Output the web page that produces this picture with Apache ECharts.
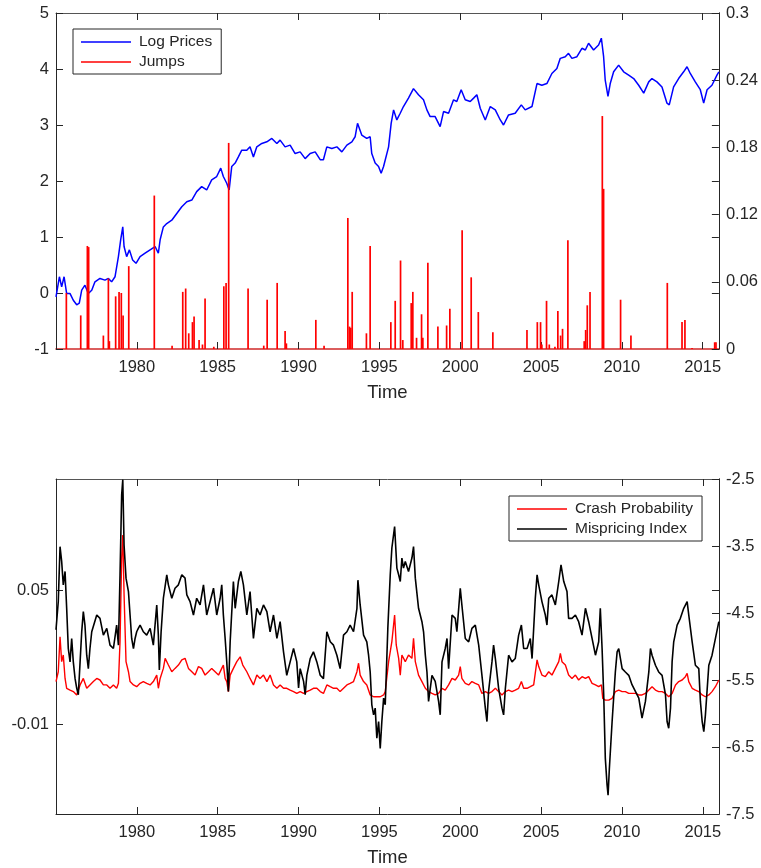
<!DOCTYPE html>
<html><head><meta charset="utf-8">
<script src="https://cdn.jsdelivr.net/npm/echarts@6/dist/echarts.min.js"></script>
<style>html,body{margin:0;padding:0;background:#fff}#c{width:761px;height:868px}</style>
</head><body><div id="c"></div>
<script>
// ---- data: [year, value] ----
const logPrices = [[1975.00,-0.07],[1975.21,0.29],[1975.35,0.11],[1975.50,0.29],[1975.66,-0.01],[1975.87,-0.01],[1976.07,-0.13],[1976.28,-0.21],[1976.44,-0.18],[1976.59,0.05],[1976.79,0.14],[1977.00,-0.01],[1977.21,0.05],[1977.41,0.20],[1977.72,0.26],[1978.03,0.23],[1978.24,0.26],[1978.44,0.20],[1978.65,0.29],[1978.75,0.32],[1978.86,0.65],[1979.00,0.95],[1979.13,1.18],[1979.21,0.83],[1979.37,0.65],[1979.54,0.77],[1979.74,0.59],[1979.95,0.53],[1980.20,0.65],[1980.51,0.71],[1980.82,0.77],[1981.13,0.83],[1981.33,0.71],[1981.44,0.95],[1981.64,1.18],[1981.85,1.24],[1982.16,1.30],[1982.47,1.42],[1982.78,1.54],[1983.09,1.63],[1983.40,1.66],[1983.70,1.81],[1984.01,1.90],[1984.32,1.84],[1984.63,2.02],[1984.94,2.08],[1985.19,2.23],[1985.35,2.08],[1985.56,1.96],[1985.71,1.84],[1985.87,2.26],[1986.08,2.32],[1986.28,2.43],[1986.49,2.55],[1986.80,2.55],[1987.00,2.61],[1987.21,2.43],[1987.42,2.61],[1987.73,2.67],[1988.04,2.70],[1988.35,2.76],[1988.66,2.67],[1988.86,2.73],[1989.17,2.61],[1989.48,2.64],[1989.79,2.49],[1990.10,2.52],[1990.41,2.40],[1990.72,2.49],[1991.03,2.52],[1991.34,2.38],[1991.54,2.38],[1991.75,2.61],[1992.06,2.58],[1992.37,2.61],[1992.68,2.52],[1992.99,2.64],[1993.30,2.70],[1993.50,2.79],[1993.65,3.03],[1993.91,2.82],[1994.22,2.76],[1994.43,2.79],[1994.53,2.49],[1994.74,2.32],[1994.95,2.26],[1995.11,2.14],[1995.26,2.26],[1995.57,2.61],[1995.73,3.03],[1995.88,3.27],[1996.08,3.09],[1996.29,3.21],[1996.49,3.33],[1996.80,3.48],[1997.11,3.65],[1997.42,3.54],[1997.73,3.45],[1997.94,3.27],[1998.14,3.15],[1998.45,3.15],[1998.76,2.97],[1998.97,3.24],[1999.28,3.21],[1999.59,3.45],[1999.79,3.42],[2000.06,3.63],[2000.31,3.45],[2000.62,3.42],[2000.83,3.48],[2001.03,3.54],[2001.24,3.30],[2001.55,3.09],[2001.86,3.33],[2002.17,3.27],[2002.48,3.09],[2002.68,3.00],[2002.99,3.18],[2003.40,3.21],[2003.78,3.36],[2004.02,3.27],[2004.44,3.33],[2004.75,3.74],[2005.05,3.71],[2005.36,3.74],[2005.67,3.92],[2005.98,4.01],[2006.19,4.19],[2006.50,4.22],[2006.70,4.28],[2006.91,4.19],[2007.22,4.22],[2007.53,4.37],[2007.74,4.34],[2007.94,4.46],[2008.25,4.34],[2008.56,4.43],[2008.73,4.55],[2008.87,4.22],[2008.97,3.80],[2009.14,3.51],[2009.28,3.74],[2009.49,3.95],[2009.80,4.07],[2010.11,3.95],[2010.42,3.89],[2010.73,3.83],[2011.04,3.71],[2011.35,3.57],[2011.66,3.77],[2011.86,3.83],[2012.17,3.77],[2012.48,3.68],[2012.79,3.39],[2012.93,3.36],[2013.20,3.68],[2013.51,3.83],[2013.82,3.95],[2014.03,4.04],[2014.23,3.92],[2014.54,3.77],[2014.85,3.63],[2015.06,3.39],[2015.27,3.63],[2015.57,3.71],[2015.88,3.89],[2016.00,3.95]];

const jumps = [[1975.64,0.050],[1976.53,0.030],[1976.94,0.092],[1977.02,0.091],[1977.93,0.012],[1978.24,0.063],[1978.30,0.007],[1978.69,0.047],[1978.90,0.051],[1979.04,0.050],[1979.15,0.030],[1979.50,0.074],[1981.08,0.137],[1982.18,0.003],[1982.84,0.051],[1983.02,0.054],[1983.21,0.014],[1983.44,0.024],[1983.54,0.029],[1983.85,0.008],[1984.06,0.004],[1984.22,0.045],[1984.76,0.002],[1985.38,0.056],[1985.52,0.059],[1985.68,0.184],[1986.88,0.054],[1987.85,0.003],[1988.06,0.044],[1988.68,0.059],[1989.17,0.016],[1989.25,0.005],[1991.07,0.026],[1991.58,0.003],[1993.05,0.117],[1993.15,0.020],[1993.23,0.019],[1993.32,0.051],[1994.20,0.014],[1994.43,0.092],[1995.71,0.024],[1995.98,0.043],[1996.31,0.079],[1996.45,0.008],[1996.97,0.041],[1997.07,0.051],[1997.30,0.010],[1997.61,0.031],[1997.69,0.010],[1998.00,0.077],[1998.62,0.020],[1999.16,0.021],[1999.36,0.036],[2000.12,0.106],[2000.68,0.064],[2001.12,0.033],[2002.02,0.015],[2004.13,0.017],[2004.77,0.024],[2004.97,0.024],[2005.05,0.004],[2005.34,0.043],[2005.51,0.004],[2005.86,0.002],[2006.04,0.034],[2006.21,0.012],[2006.33,0.018],[2006.66,0.097],[2007.67,0.007],[2007.76,0.017],[2007.86,0.039],[2008.03,0.051],[2008.79,0.208],[2008.87,0.143],[2009.92,0.044],[2010.56,0.012],[2012.81,0.059],[2013.72,0.024],[2013.90,0.026],[2014.34,0.001],[2015.74,0.006],[2015.82,0.006]];

const crashProbability = [[1975.00,0.0093],[1975.14,0.0137],[1975.25,0.0294],[1975.35,0.0182],[1975.45,0.0212],[1975.56,0.0107],[1975.66,0.0063],[1975.87,0.0055],[1976.07,0.0048],[1976.28,0.0033],[1976.49,0.0078],[1976.69,0.0107],[1976.90,0.0063],[1977.10,0.0078],[1977.31,0.0093],[1977.52,0.0107],[1977.72,0.0100],[1977.93,0.0078],[1978.14,0.0078],[1978.34,0.0063],[1978.55,0.0078],[1978.75,0.0063],[1978.86,0.0085],[1978.96,0.0272],[1979.06,0.0645],[1979.13,0.0749],[1979.21,0.0481],[1979.33,0.0182],[1979.48,0.0137],[1979.58,0.0093],[1979.79,0.0078],[1979.99,0.0070],[1980.20,0.0085],[1980.40,0.0093],[1980.61,0.0085],[1980.82,0.0078],[1981.02,0.0093],[1981.23,0.0122],[1981.33,0.0063],[1981.44,0.0107],[1981.64,0.0152],[1981.75,0.0197],[1981.95,0.0167],[1982.16,0.0137],[1982.36,0.0152],[1982.57,0.0167],[1982.78,0.0190],[1982.98,0.0197],[1983.19,0.0152],[1983.40,0.0137],[1983.60,0.0122],[1983.81,0.0160],[1984.01,0.0152],[1984.22,0.0122],[1984.43,0.0137],[1984.63,0.0152],[1984.84,0.0137],[1985.05,0.0122],[1985.25,0.0152],[1985.35,0.0167],[1985.46,0.0107],[1985.56,0.0093],[1985.66,0.0048],[1985.77,0.0122],[1985.97,0.0152],[1986.18,0.0182],[1986.39,0.0204],[1986.55,0.0167],[1986.80,0.0137],[1987.00,0.0107],[1987.21,0.0078],[1987.42,0.0122],[1987.62,0.0107],[1987.83,0.0122],[1988.04,0.0093],[1988.24,0.0122],[1988.45,0.0078],[1988.66,0.0063],[1988.86,0.0078],[1989.07,0.0063],[1989.27,0.0063],[1989.48,0.0055],[1989.69,0.0048],[1989.89,0.0040],[1990.10,0.0048],[1990.31,0.0040],[1990.51,0.0048],[1990.72,0.0055],[1990.92,0.0063],[1991.13,0.0063],[1991.34,0.0048],[1991.54,0.0040],[1991.75,0.0078],[1991.96,0.0070],[1992.16,0.0063],[1992.37,0.0063],[1992.57,0.0048],[1992.78,0.0063],[1992.99,0.0078],[1993.19,0.0085],[1993.40,0.0093],[1993.61,0.0137],[1993.71,0.0175],[1993.81,0.0122],[1994.02,0.0093],[1994.22,0.0078],[1994.43,0.0033],[1994.64,0.0025],[1994.84,0.0025],[1995.05,0.0025],[1995.26,0.0033],[1995.36,0.0048],[1995.57,0.0182],[1995.77,0.0272],[1995.94,0.0391],[1996.04,0.0257],[1996.19,0.0197],[1996.29,0.0122],[1996.39,0.0212],[1996.60,0.0182],[1996.80,0.0212],[1997.01,0.0197],[1997.11,0.0287],[1997.22,0.0182],[1997.42,0.0122],[1997.63,0.0093],[1997.84,0.0063],[1998.04,0.0048],[1998.25,0.0040],[1998.45,0.0033],[1998.66,0.0040],[1998.87,0.0063],[1999.07,0.0055],[1999.28,0.0078],[1999.49,0.0107],[1999.69,0.0100],[1999.90,0.0122],[2000.00,0.0160],[2000.10,0.0107],[2000.31,0.0085],[2000.52,0.0078],[2000.72,0.0093],[2000.93,0.0085],[2001.14,0.0078],[2001.34,0.0040],[2001.55,0.0048],[2001.75,0.0040],[2001.96,0.0048],[2002.17,0.0063],[2002.37,0.0048],[2002.58,0.0033],[2002.79,0.0048],[2002.99,0.0055],[2003.20,0.0048],[2003.40,0.0055],[2003.61,0.0063],[2003.78,0.0093],[2003.92,0.0063],[2004.13,0.0063],[2004.33,0.0070],[2004.54,0.0078],[2004.75,0.0190],[2004.85,0.0160],[2005.05,0.0122],[2005.26,0.0115],[2005.47,0.0137],[2005.67,0.0122],[2005.88,0.0152],[2006.09,0.0182],[2006.19,0.0219],[2006.29,0.0182],[2006.50,0.0167],[2006.70,0.0122],[2006.91,0.0107],[2007.12,0.0122],[2007.32,0.0100],[2007.53,0.0115],[2007.74,0.0107],[2007.94,0.0115],[2008.15,0.0085],[2008.36,0.0078],[2008.56,0.0070],[2008.73,0.0078],[2008.81,0.0018],[2008.97,0.0010],[2009.18,0.0010],[2009.39,0.0018],[2009.59,0.0048],[2009.80,0.0055],[2010.01,0.0048],[2010.21,0.0048],[2010.42,0.0040],[2010.62,0.0040],[2010.83,0.0040],[2011.04,0.0033],[2011.24,0.0033],[2011.45,0.0040],[2011.66,0.0055],[2011.86,0.0070],[2012.07,0.0055],[2012.27,0.0048],[2012.48,0.0048],[2012.69,0.0040],[2012.89,0.0025],[2013.10,0.0040],[2013.31,0.0078],[2013.51,0.0093],[2013.72,0.0100],[2013.92,0.0115],[2014.03,0.0130],[2014.13,0.0093],[2014.34,0.0063],[2014.54,0.0055],[2014.75,0.0048],[2014.96,0.0033],[2015.16,0.0025],[2015.37,0.0033],[2015.57,0.0048],[2015.78,0.0070],[2015.99,0.0100]];

const mispricingIndex = [[1975.00,-4.75],[1975.14,-4.33],[1975.25,-3.51],[1975.35,-3.73],[1975.45,-4.08],[1975.56,-3.88],[1975.66,-4.43],[1975.76,-5.03],[1975.87,-5.23],[1975.97,-4.88],[1976.07,-5.23],[1976.18,-5.48],[1976.28,-5.62],[1976.38,-5.72],[1976.49,-5.23],[1976.59,-4.78],[1976.69,-4.48],[1976.79,-4.68],[1976.90,-5.13],[1977.00,-5.33],[1977.10,-5.03],[1977.21,-4.78],[1977.31,-4.78],[1977.52,-4.53],[1977.72,-4.58],[1977.93,-4.83],[1978.14,-4.73],[1978.34,-4.98],[1978.55,-5.03],[1978.75,-4.68],[1978.86,-4.98],[1978.96,-3.93],[1979.06,-2.74],[1979.13,-2.51],[1979.21,-3.49],[1979.33,-3.98],[1979.48,-4.18],[1979.58,-4.53],[1979.68,-4.88],[1979.79,-5.03],[1979.89,-4.88],[1979.99,-4.78],[1980.09,-4.73],[1980.20,-4.68],[1980.40,-4.78],[1980.61,-4.83],[1980.82,-4.73],[1981.02,-4.98],[1981.23,-4.38],[1981.33,-4.83],[1981.39,-5.35],[1981.50,-4.78],[1981.64,-4.28],[1981.85,-3.93],[1981.95,-4.08],[1982.16,-4.28],[1982.36,-4.13],[1982.57,-4.08],[1982.78,-3.93],[1982.98,-3.98],[1983.09,-4.23],[1983.29,-4.33],[1983.50,-4.53],[1983.70,-4.28],[1983.91,-4.38],[1984.12,-4.08],[1984.32,-4.53],[1984.53,-4.33],[1984.74,-4.13],[1984.94,-4.53],[1985.15,-4.28],[1985.25,-4.08],[1985.35,-4.53],[1985.46,-4.88],[1985.56,-5.23],[1985.66,-5.67],[1985.77,-4.93],[1985.97,-4.03],[1986.08,-4.43],[1986.28,-4.03],[1986.43,-3.88],[1986.59,-4.08],[1986.80,-4.53],[1987.00,-4.18],[1987.21,-4.88],[1987.42,-4.43],[1987.62,-4.53],[1987.83,-4.38],[1988.04,-4.48],[1988.24,-4.78],[1988.45,-4.53],[1988.66,-4.88],[1988.86,-4.63],[1989.07,-5.08],[1989.27,-5.43],[1989.48,-5.23],[1989.69,-5.03],[1989.89,-5.23],[1990.00,-5.62],[1990.10,-5.33],[1990.31,-5.52],[1990.41,-5.72],[1990.51,-5.43],[1990.72,-5.18],[1990.92,-5.08],[1991.13,-5.23],[1991.34,-5.43],[1991.54,-5.48],[1991.75,-4.78],[1991.96,-4.93],[1992.16,-4.98],[1992.37,-5.13],[1992.57,-5.33],[1992.78,-4.83],[1992.99,-4.78],[1993.19,-4.68],[1993.40,-4.78],[1993.61,-4.43],[1993.67,-4.01],[1993.81,-4.38],[1994.02,-4.83],[1994.22,-4.93],[1994.33,-5.13],[1994.43,-5.38],[1994.53,-5.87],[1994.64,-6.02],[1994.74,-5.92],[1994.84,-6.37],[1994.95,-6.12],[1995.05,-6.52],[1995.15,-6.12],[1995.26,-5.77],[1995.36,-5.87],[1995.52,-4.73],[1995.67,-3.93],[1995.77,-3.53],[1995.94,-3.21],[1996.08,-3.83],[1996.19,-3.93],[1996.29,-4.03],[1996.39,-3.68],[1996.49,-3.83],[1996.60,-3.73],[1996.80,-3.88],[1997.01,-3.68],[1997.11,-3.51],[1997.22,-3.98],[1997.42,-4.43],[1997.63,-4.63],[1997.73,-4.78],[1997.84,-5.13],[1997.94,-5.38],[1998.04,-5.82],[1998.25,-5.43],[1998.45,-5.52],[1998.66,-5.82],[1998.76,-6.02],[1998.87,-5.23],[1999.07,-5.03],[1999.18,-4.88],[1999.28,-5.33],[1999.49,-4.53],[1999.69,-4.58],[1999.79,-4.78],[2000.00,-4.13],[2000.10,-4.38],[2000.31,-4.88],[2000.52,-4.93],[2000.72,-4.73],[2000.93,-4.68],[2001.14,-4.98],[2001.34,-5.43],[2001.55,-5.92],[2001.65,-6.12],[2001.75,-5.67],[2001.96,-5.23],[2002.06,-4.98],[2002.17,-5.18],[2002.37,-5.62],[2002.58,-5.92],[2002.68,-6.02],[2002.79,-5.62],[2002.99,-5.13],[2003.20,-5.23],[2003.40,-5.18],[2003.61,-4.83],[2003.78,-4.68],[2003.92,-5.03],[2004.13,-5.03],[2004.33,-4.88],[2004.44,-5.18],[2004.64,-4.28],[2004.75,-3.93],[2004.85,-4.08],[2005.05,-4.33],[2005.26,-4.53],[2005.36,-4.68],[2005.47,-4.28],[2005.67,-4.23],[2005.88,-4.38],[2006.09,-4.03],[2006.23,-3.78],[2006.40,-4.03],[2006.60,-4.18],[2006.70,-4.58],[2006.91,-4.58],[2007.12,-4.53],[2007.32,-4.63],[2007.53,-4.83],[2007.74,-4.43],[2007.94,-4.63],[2008.15,-4.88],[2008.36,-5.13],[2008.56,-4.93],[2008.66,-4.43],[2008.77,-5.03],[2008.87,-5.72],[2008.97,-6.67],[2009.08,-7.07],[2009.14,-7.22],[2009.22,-6.82],[2009.39,-6.12],[2009.59,-5.38],[2009.70,-5.08],[2009.80,-5.03],[2010.01,-5.33],[2010.21,-5.38],[2010.42,-5.43],[2010.62,-5.57],[2010.83,-5.67],[2011.04,-5.77],[2011.24,-6.07],[2011.45,-5.82],[2011.66,-5.38],[2011.76,-5.03],[2011.86,-5.13],[2012.07,-5.28],[2012.27,-5.38],[2012.48,-5.43],[2012.69,-5.72],[2012.79,-6.12],[2012.89,-6.22],[2013.00,-5.92],[2013.10,-5.23],[2013.20,-4.93],[2013.41,-4.68],[2013.61,-4.58],[2013.82,-4.43],[2014.03,-4.33],[2014.13,-4.53],[2014.34,-4.93],[2014.54,-5.28],[2014.75,-5.33],[2014.85,-5.82],[2014.96,-6.12],[2015.06,-6.27],[2015.16,-6.02],[2015.37,-5.28],[2015.57,-5.13],[2015.78,-4.88],[2015.99,-4.63]];

const yearTicks = [1980, 1985, 1990, 1995, 2000, 2005, 2010, 2015];
const crashTicks = [-0.01, 0.05];

// ---- chart ----
const FONT = '"Liberation Sans", Arial, Helvetica, sans-serif';
const AX = '#262626';
const chart = echarts.init(document.getElementById('c'), null, {renderer: 'canvas'});

function xBottom(gi, lineColor) {
  return {
    type: 'value', gridIndex: gi, min: 1975, max: 2016, interval: 5,
    axisLine: {show: true, onZero: false, lineStyle: {color: lineColor, width: lineColor === AX ? 1 : 1.6}},
    axisTick: {show: true, inside: true, length: 7, lineStyle: {color: AX}},
    axisLabel: {show: true, margin: 10, fontSize: 16.5, color: AX, fontFamily: FONT,
      formatter: v => (yearTicks.indexOf(v) >= 0 ? String(v) : '')},
    splitLine: {show: false},
    name: 'Time', nameLocation: 'middle', nameGap: 34,
    nameTextStyle: {fontSize: 18.5, color: AX, fontFamily: FONT}
  };
}
function xTop(gi) {
  return {
    type: 'value', gridIndex: gi, position: 'top', min: 1975, max: 2016, interval: 5,
    axisLine: {show: true, onZero: false, lineStyle: {color: '#555', width: 1}},
    axisTick: {show: true, inside: true, length: 7, lineStyle: {color: AX}},
    axisLabel: {show: false}, splitLine: {show: false}
  };
}
function yAx(gi, pos, min, max, opts) {
  const o = {
    type: 'value', gridIndex: gi, position: pos, min: min, max: max,
    axisLine: {show: true, onZero: false, lineStyle: {color: AX, width: 1}},
    axisTick: {show: true, inside: true, length: 7, lineStyle: {color: AX}},
    axisLabel: {show: true, margin: 7, fontSize: 16.5, color: AX, fontFamily: FONT},
    splitLine: {show: false}
  };
  if (opts.interval !== undefined) o.interval = opts.interval;
  if (opts.custom) {
    o.axisTick.customValues = opts.custom;
    o.axisLabel.customValues = opts.custom;
  }
  if (opts.noLabel) o.axisLabel = {show: false};
  return o;
}

const legendCommon = {
  orient: 'vertical', itemWidth: 50, itemHeight: 1.5, itemGap: 4, icon: 'rect',
  borderColor: AX, borderWidth: 1, backgroundColor: '#fff', padding: [5, 9, 4, 8],
  textStyle: {fontSize: 15.5, lineHeight: 16, color: AX, fontFamily: FONT, padding: [0, 0, 0, 3]}
};

chart.setOption({
  animation: false,
  backgroundColor: '#fff',
  grid: [
    {left: 56, top: 13, width: 663, height: 336},
    {left: 56, top: 479, width: 663, height: 335}
  ],
  xAxis: [xBottom(0, '#cf2a2a'), xTop(0), xBottom(1, AX), xTop(1)],
  yAxis: [
    yAx(0, 'left', -1, 5, {interval: 1}),
    yAx(0, 'right', 0, 0.3, {interval: 0.06}),
    yAx(0, 'right', -1, 5, {interval: 1, noLabel: true}),
    yAx(1, 'left', -0.05, 0.1, {custom: crashTicks}),
    yAx(1, 'right', -7.5, -2.5, {interval: 1}),
    yAx(1, 'right', -0.05, 0.1, {custom: crashTicks, noLabel: true})
  ],
  legend: [
    Object.assign({}, legendCommon, {left: 73, top: 29, data: ['Log Prices', 'Jumps']}),
    Object.assign({}, legendCommon, {left: 509, top: 496, data: ['Crash Probability', 'Mispricing Index']})
  ],
  series: [
    {name: 'Log Prices', type: 'line', xAxisIndex: 0, yAxisIndex: 0, data: logPrices,
      symbol: 'none', lineStyle: {color: '#0000ff', width: 1.5}, itemStyle: {color: '#0000ff'}, z: 2},
    {name: 'Jumps', type: 'bar', xAxisIndex: 0, yAxisIndex: 1, data: jumps, barWidth: 1.7,
      itemStyle: {color: '#ff0000'}, z: 3},
    {name: 'Crash Probability', type: 'line', xAxisIndex: 2, yAxisIndex: 3, data: crashProbability,
      symbol: 'none', lineStyle: {color: '#ff0000', width: 1.4}, itemStyle: {color: '#ff0000'}, z: 2},
    {name: 'Mispricing Index', type: 'line', xAxisIndex: 2, yAxisIndex: 4, data: mispricingIndex,
      symbol: 'none', lineStyle: {color: '#000000', width: 1.6}, itemStyle: {color: '#000000'}, z: 3}
  ]
});
</script>
</body></html>
